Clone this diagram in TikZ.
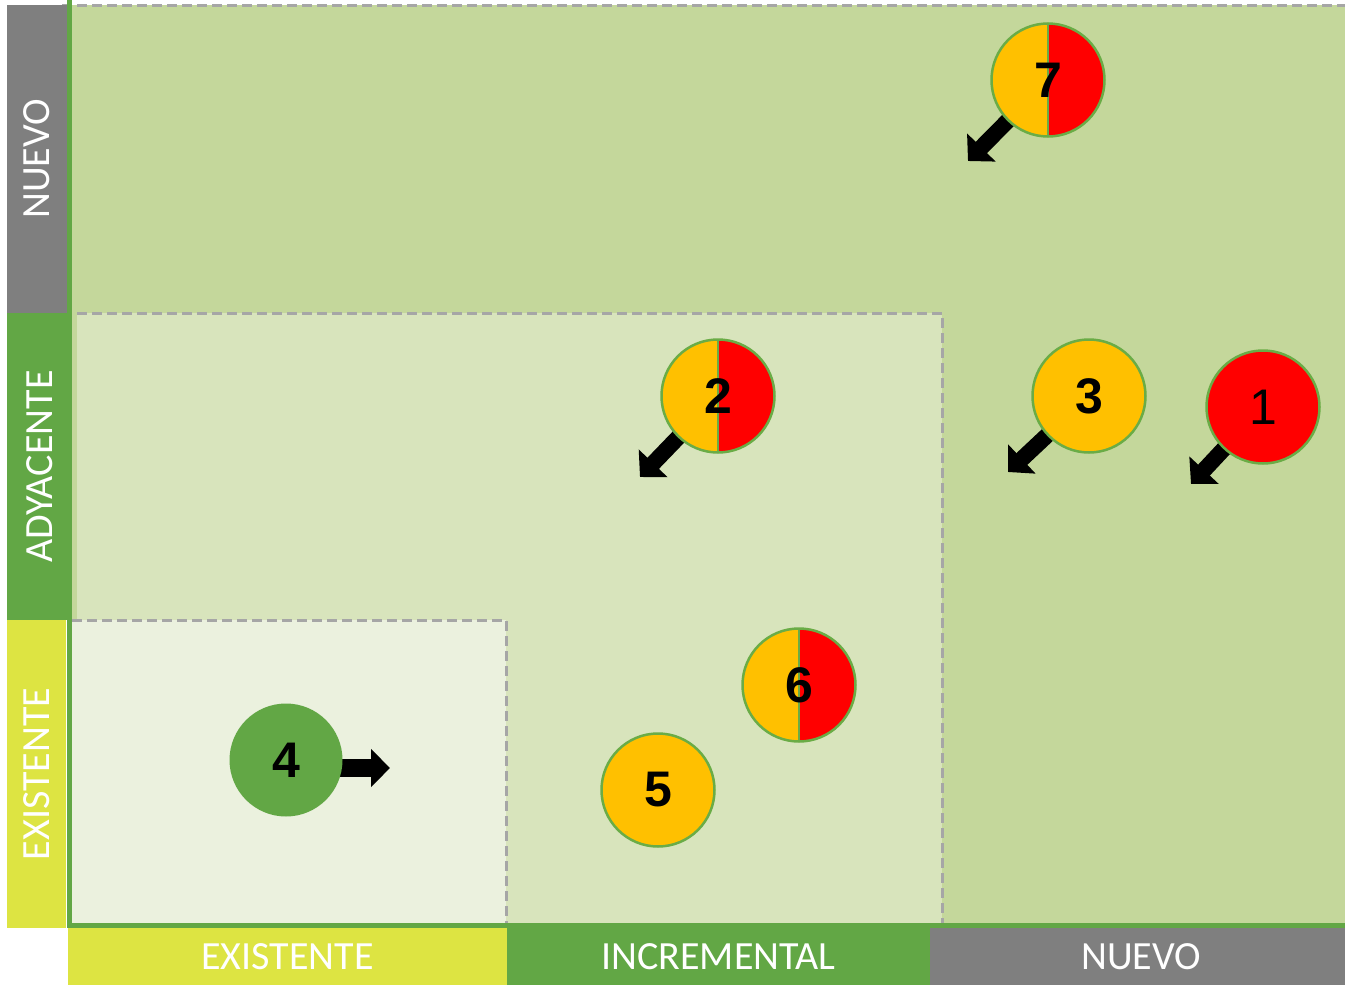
\documentclass[tikz,border=0pt]{standalone}
\usepackage{fontspec}
\setmainfont{Liberation Sans}
\newfontfamily\labfont{Carlito}
\usetikzlibrary{arrows.meta}
\definecolor{grayband}{RGB}{127,127,127}
\definecolor{greenband}{RGB}{98,167,69}
\definecolor{yellowband}{RGB}{221,228,66}
\definecolor{bgA}{RGB}{196,215,155}
\definecolor{bgB}{RGB}{216,228,188}
\definecolor{bgC}{RGB}{235,241,222}
\definecolor{dashgray}{RGB}{166,166,166}
\definecolor{corange}{RGB}{255,192,0}
\definecolor{cred}{RGB}{255,0,0}
\definecolor{cborder}{RGB}{106,172,70}
\pgfdeclarelayer{bg}\pgfdeclarelayer{mid}
\pgfsetlayers{bg,mid,main}
\tikzset{
  band/.style={inner sep=0pt, text=white, font=\labfont\fontsize{40}{40}\selectfont},
  dashln/.style={draw=dashgray, line width=3pt, dash pattern=on 10pt off 5pt},
  circ/.style={circle, minimum size=113pt, inner sep=0pt, draw=cborder, line width=2.5pt,
    font=\fontsize{50}{50}\selectfont\bfseries},
  halfc/.style={circ, fill=corange, path picture={
    \fill[cred] (path picture bounding box.north) rectangle (path picture bounding box.south east);
    \draw[cborder, line width=2.5pt] (path picture bounding box.north) -- (path picture bounding box.south);}},
  blkarrow/.style={draw=black, line width=16pt, -{Triangle[length=19pt,width=39pt]}},
}
\begin{document}
\begin{tikzpicture}[x=1pt,y=-1pt]
\useasboundingbox (0,0) rectangle (1345,985);
\begin{pgfonlayer}{bg}
\fill[bgA] (67,5) rectangle (1345,928);
\fill[bgB] (77,313) rectangle (942,925);
\fill[bgC] (67,620) rectangle (506,925);
\draw[dashln] (62,5) -- (1345,5);
\draw[dashln] (62,313) -- (942,313) -- (942,925);
\draw[dashln] (72,620) -- (506,620) -- (506,928);
\draw[greenband, line width=5pt] (69.5,0) -- (69.5,928);
\draw[greenband, line width=5pt] (67,925.5) -- (1345,925.5);
\end{pgfonlayer}
% axis bands
\node[band, fill=grayband, minimum width=308pt, minimum height=60pt, rotate=90] (ly3) at (37,159) {NUEVO};
\node[band, fill=greenband, minimum width=307pt, minimum height=65pt, rotate=90] (ly2) at (39.5,466.5) {ADYACENTE};
\node[band, fill=yellowband, minimum width=308pt, minimum height=59pt, rotate=90] (ly1) at (36.5,774) {EXISTENTE};
\node[band, fill=yellowband, minimum width=439pt, minimum height=57pt] (lx1) at (287.5,956.5) {EXISTENTE};
\node[band, fill=greenband, minimum width=423pt, minimum height=57pt] (lx2) at (718.5,956.5) {INCREMENTAL};
\node[band, fill=grayband, minimum width=415pt, minimum height=57pt] (lx3) at (1137.5,956.5) {\hspace*{7pt}NUEVO};
% circles
\node[halfc] (c7) at (1048,80) {7};
\node[halfc] (c2) at (718,396) {2};
\node[circ, fill=corange] (c3) at (1089,396) {3};
\node[circ, fill=cred, font=\fontsize{50}{50}\selectfont] (c1) at (1263,407) {1};
\node[halfc] (c6) at (799,685) {6};
\node[circ, fill=corange] (c5) at (658,790) {5};
\node[circ, draw=none, fill=greenband] (c4) at (286,760) {4};
% arrow tips
\coordinate (t7) at (968,161);
\coordinate (t2) at (640,477);
\coordinate (t3) at (1008,472);
\coordinate (t1) at (1191,484);
\coordinate (t4) at (390,768);
\begin{pgfonlayer}{mid}
\draw[blkarrow] (c7.center) -- (t7);
\draw[blkarrow] (c2.center) -- (t2);
\draw[blkarrow] (c3.center) -- (t3);
\draw[blkarrow] (c1.center) -- (t1);
\draw[draw=black, line width=18pt, -{Triangle[length=19pt,width=37pt]}] ([yshift=-8pt]c4.center) -- (t4);
\end{pgfonlayer}
\end{tikzpicture}
\end{document}
